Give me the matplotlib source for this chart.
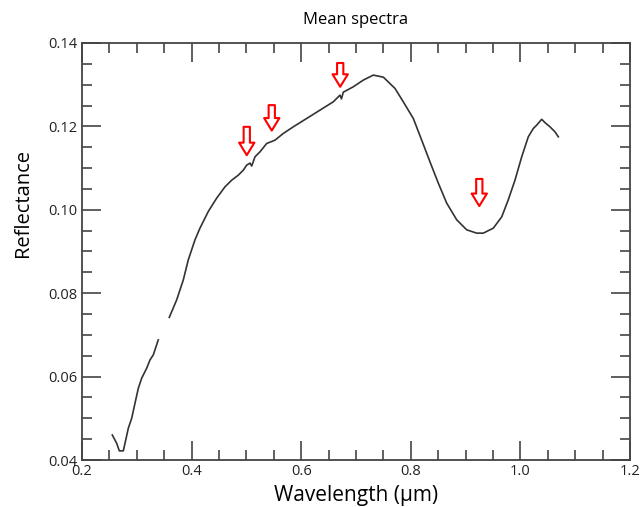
import numpy as np
import matplotlib
matplotlib.use("Agg")
import matplotlib.pyplot as plt
from matplotlib.ticker import MultipleLocator

plt.rcParams['font.family'] = ['Open Sans', 'DejaVu Sans']

# first piece of the spectrum (UV end, before the gap)
wl_uv = [0.2553, 0.2633, 0.2681, 0.2754, 0.2785, 0.2845, 0.2907, 0.2967,
         0.3028, 0.3089, 0.3180, 0.3241, 0.3301, 0.3392]
refl_uv = [0.0460, 0.0440, 0.0422, 0.0422, 0.0440, 0.0476, 0.0500, 0.0536,
           0.0572, 0.0596, 0.0620, 0.0640, 0.0652, 0.0688]

# main piece of the spectrum
wl = [0.3593, 0.3728, 0.3849, 0.3940, 0.4062, 0.4153, 0.4305, 0.4458,
      0.4609, 0.4732, 0.4852, 0.4943, 0.5005, 0.5066, 0.5097, 0.5157,
      0.5248, 0.5370, 0.5522, 0.5673, 0.5856, 0.6100, 0.6343, 0.6586,
      0.6708, 0.6735, 0.6768, 0.6951, 0.7133, 0.7316, 0.7500, 0.7712,
      0.7863, 0.8046, 0.8199, 0.8350, 0.8502, 0.8655, 0.8838, 0.9020,
      0.9203, 0.9323, 0.9506, 0.9659, 0.9779, 0.9901, 1.0024, 1.0144,
      1.0236, 1.0297, 1.0389, 1.0449, 1.0540, 1.0631, 1.0692]
refl = [0.0742, 0.0784, 0.0832, 0.0880, 0.0928, 0.0956, 0.0996, 0.1028,
        0.1055, 0.1071, 0.1083, 0.1095, 0.1107, 0.1112, 0.1105, 0.1127,
        0.1139, 0.1159, 0.1167, 0.1183, 0.1199, 0.1219, 0.1239, 0.1259,
        0.1275, 0.1266, 0.1282, 0.1295, 0.1311, 0.1323, 0.1318, 0.1291,
        0.1259, 0.1219, 0.1167, 0.1115, 0.1064, 0.1016, 0.0976, 0.0952,
        0.0944, 0.0944, 0.0956, 0.0983, 0.1024, 0.1071, 0.1127, 0.1175,
        0.1195, 0.1203, 0.1217, 0.1209, 0.1199, 0.1187, 0.1175]

# red arrows marking absorption features (x, top, tip)
arrow_x = [0.5007, 0.5463, 0.6712, 0.9250]
arrow_top = [0.1199, 0.1251, 0.1352, 0.1074]
arrow_tip = [0.1131, 0.1190, 0.1295, 0.1009]

fig = plt.figure(figsize=(6.42, 5.07), dpi=100)
ax = fig.add_axes([0.1277, 0.0927, 0.8536, 0.8225])

ax.plot(wl_uv, refl_uv, color='#333333', lw=1.2)
ax.plot(wl, refl, color='#333333', lw=1.2)

for x, top, tip in zip(arrow_x, arrow_top, arrow_tip):
    ax.annotate('', xy=(x, tip), xytext=(x, top),
                arrowprops=dict(arrowstyle='simple,head_width=1.1,head_length=0.9,tail_width=0.45',
                                fc='white', ec='red', lw=1.5, shrinkA=0, shrinkB=0))

ax.set_xlim(0.2, 1.2)
ax.set_ylim(0.04, 0.14)
ax.xaxis.set_major_locator(MultipleLocator(0.2))
ax.xaxis.set_minor_locator(MultipleLocator(0.05))
ax.yaxis.set_major_locator(MultipleLocator(0.02))
ax.yaxis.set_minor_locator(MultipleLocator(0.005))
ax.xaxis.set_major_formatter(plt.FormatStrFormatter('%.1f'))
ax.yaxis.set_major_formatter(plt.FormatStrFormatter('%.2f'))

ax.tick_params(which='both', direction='in', top=True, right=True,
               color='#444444', width=1.2, labelsize=10.5, labelcolor='#222222')
ax.tick_params(which='major', length=14, pad=3)
ax.tick_params(which='minor', length=7.5)
for s in ax.spines.values():
    s.set_color('#444444')
    s.set_linewidth(1.3)

ax.set_title('Mean spectra', fontsize=12, pad=14)
ax.set_xlabel('Wavelength (\u00b5m)', fontsize=15, labelpad=4)
ax.set_ylabel('Reflectance', fontsize=14.5)
ax.yaxis.set_label_coords(-0.09, 0.616)

fig.savefig('out.png', dpi=100)
